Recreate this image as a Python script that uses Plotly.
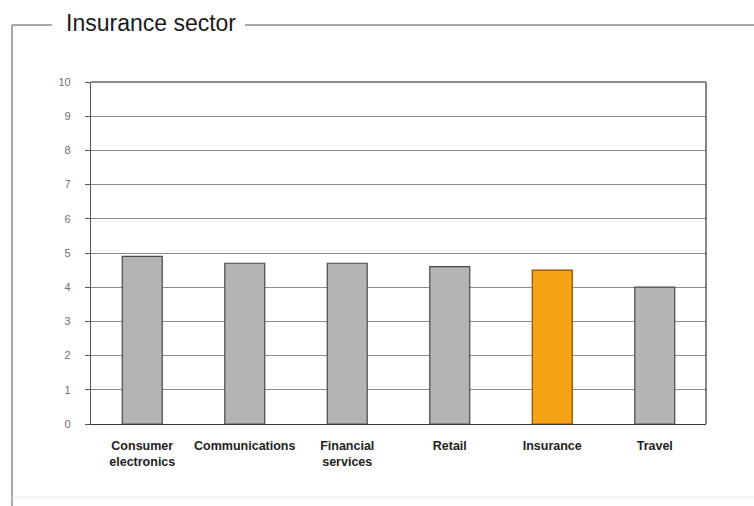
import plotly.graph_objects as go

# Sector scores
categories = ["Consumer<br>electronics", "Communications", "Financial<br>services",
              "Retail", "Insurance", "Travel"]
scores = [4.9, 4.7, 4.7, 4.6, 4.5, 4.0]
highlight = "Insurance"
y_ticks = list(range(0, 11))

FONT = "Liberation Sans, Arial, sans-serif"

fill_colors = ["#f5a313" if c == highlight else "#b4b4b4" for c in categories]
line_colors = ["#8a4a00" if c == highlight else "#4a4a4a" for c in categories]

fig = go.Figure(
    go.Bar(
        x=categories,
        y=scores,
        marker=dict(color=fill_colors, line=dict(color=line_colors, width=1.2)),
        width=0.39,
        hoverinfo="x+y",
    )
)

fig.update_layout(
    width=754,
    height=506,
    margin=dict(l=91, r=48, t=82, b=82),
    paper_bgcolor="white",
    plot_bgcolor="white",
    showlegend=False,
    font=dict(family=FONT),
    xaxis=dict(
        showline=True, linecolor="#333333", linewidth=1.2, mirror=False,
        ticks="", ticklabelstandoff=10,
        tickfont=dict(size=12.5, color="#222222", family=FONT, weight="bold"),
        showgrid=False,
    ),
    yaxis=dict(
        range=[0, 10], tickvals=y_ticks, ticks="outside", ticklen=5,
        tickcolor="#555555", showline=True, linecolor="#555555", linewidth=1.2,
        ticklabelstandoff=12,
        showgrid=True, gridcolor="#8c8c8c", gridwidth=1,
        tickfont=dict(size=11, color="#6e6e6e", family=FONT),
        zeroline=False,
    ),
)

# Right and top edges of the plotting frame
fig.add_shape(type="line", xref="paper", yref="paper", x0=1, x1=1, y0=0, y1=1,
              line=dict(color="#333333", width=1.2))
fig.add_shape(type="line", xref="paper", yref="paper", x0=0, x1=1, y0=1, y1=1,
              line=dict(color="#666666", width=1.5))

# Outer section frame with the heading set into its top rule
PL, PB, PW, PH = 91, 424, 615, 342
def fx(x):
    return (x - PL) / PW
def fy(y):
    return (PB - y) / PH

frame_color = "#555555"
fig.add_shape(type="line", xref="paper", yref="paper",
              x0=fx(12), x1=fx(52), y0=fy(25), y1=fy(25),
              line=dict(color=frame_color, width=1))
fig.add_shape(type="line", xref="paper", yref="paper",
              x0=fx(245), x1=fx(754), y0=fy(25), y1=fy(25),
              line=dict(color=frame_color, width=1))
fig.add_shape(type="line", xref="paper", yref="paper",
              x0=fx(12), x1=fx(12), y0=fy(25), y1=fy(506),
              line=dict(color=frame_color, width=1))
fig.add_shape(type="line", xref="paper", yref="paper",
              x0=fx(12), x1=fx(754), y0=fy(497), y1=fy(497),
              line=dict(color="#e6e6e6", width=1))

fig.add_annotation(
    text="Insurance sector", xref="paper", yref="paper",
    x=fx(64), y=fy(23), xanchor="left", yanchor="middle",
    showarrow=False, font=dict(size=23, color="#1a1a1a", family=FONT),
)

fig.write_html("out.html")
